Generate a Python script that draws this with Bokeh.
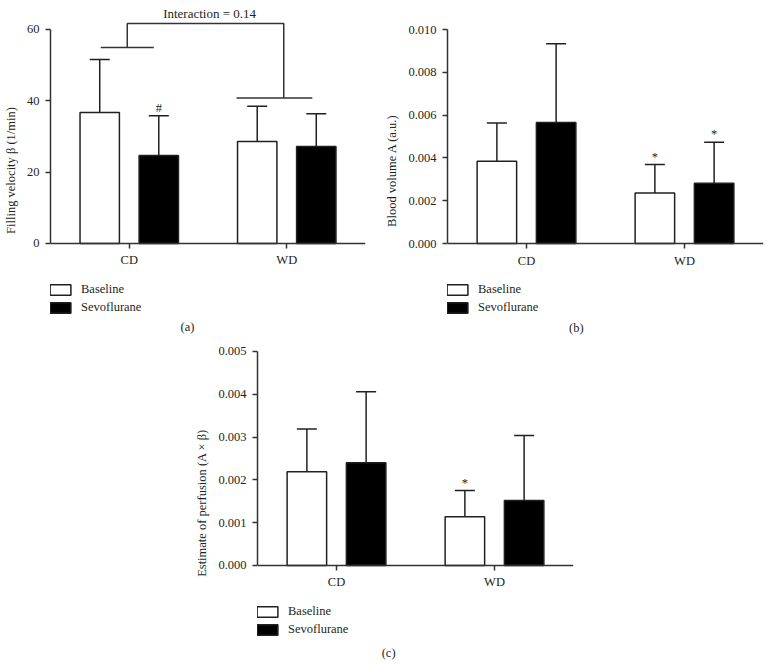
from bokeh.plotting import figure
from bokeh.models import (FactorRange, Range1d, FixedTicker, PrintfTickFormatter, Whisker,
                          TeeHead, ColumnDataSource, Legend, LegendItem, Label, Spacer)
from bokeh.transform import dodge
from bokeh.layouts import column, row
from bokeh.embed import file_html
from bokeh.resources import INLINE
from bokeh.core.properties import value

# ---------------- data ----------------
groups = ["CD", "WD"]
series = ["Baseline", "Sevoflurane"]

vel_base = [36.7, 28.6]
vel_base_sd = [14.9, 9.9]
vel_sevo = [24.7, 27.2]
vel_sevo_sd = [11.1, 9.2]
vel_marks_base = ["", ""]
vel_marks_sevo = ["#", ""]
vel_ticks = [0, 20, 40, 60]

vol_base = [0.00384, 0.00236]
vol_base_sd = [0.00179, 0.00133]
vol_sevo = [0.00566, 0.00281]
vol_sevo_sd = [0.00368, 0.00192]
vol_marks_base = ["", "*"]
vol_marks_sevo = ["", "*"]
vol_ticks = [0, 0.002, 0.004, 0.006, 0.008, 0.010]

perf_base = [0.00219, 0.00114]
perf_base_sd = [0.00100, 0.00061]
perf_sevo = [0.00240, 0.00152]
perf_sevo_sd = [0.00166, 0.00152]
perf_marks_base = ["", "*"]
perf_marks_sevo = ["", ""]
perf_ticks = [0, 0.001, 0.002, 0.003, 0.004, 0.005]

interaction_text = "Interaction = 0.14"
interaction_levels = [54.95, 40.8]   # group bracket levels (panel a)
interaction_top = 61.7

# ---------------- style ----------------
FONT = "Liberation Serif"
INK = "#231f20"
LINE = "#333333"
FS = "12.5px"
OFF = 0.1875
BW = 0.25


def make_panel(base, base_sd, sevo, sevo_sd, marks_b, marks_s, ticks, fmt, ylabel,
               width, height, borders, y_start, y_end, legend_y, panel_label, label_xy):
    left, right, top, bottom = borders
    p = figure(x_range=FactorRange(*groups, range_padding=0),
               y_range=Range1d(y_start, y_end),
               width=width, height=height, output_backend="svg",
               toolbar_location=None, tools="",
               min_border_left=left, min_border_right=right,
               min_border_top=top, min_border_bottom=bottom)
    p.outline_line_color = None
    p.xgrid.visible = False
    p.ygrid.visible = False
    p.background_fill_color = "white"
    p.border_fill_color = "white"

    src = ColumnDataSource(dict(
        x=groups, base=base, sevo=sevo,
        base_up=[m + s for m, s in zip(base, base_sd)],
        sevo_up=[m + s for m, s in zip(sevo, sevo_sd)],
        mb=marks_b, ms=marks_s))

    rb = p.vbar(x=dodge("x", -OFF, range=p.x_range), top="base", bottom=0, width=BW,
                source=src, fill_color="white", line_color=INK, line_width=1.5)
    rs = p.vbar(x=dodge("x", OFF, range=p.x_range), top="sevo", bottom=0, width=BW,
                source=src, fill_color="black", line_color=INK, line_width=1.5)

    for off, lo, up in [(-OFF, "base", "base_up"), (OFF, "sevo", "sevo_up")]:
        w = Whisker(base=dodge("x", off, range=p.x_range), lower=lo, upper=up, source=src,
                    dimension="height", lower_head=None,
                    upper_head=TeeHead(size=20, line_color=INK, line_width=1.5),
                    line_color=INK, line_width=1.5)
        p.add_layout(w)

    for off, up, mk in [(-OFF, "base_up", "mb"), (OFF, "sevo_up", "ms")]:
        p.text(x=dodge("x", off, range=p.x_range), y=up, text=mk, source=src,
               text_font=value(FONT), text_font_size=FS, text_color=INK,
               text_align="center", text_baseline="middle", y_offset=-8)

    ax = p.xaxis[0]
    ax.fixed_location = 0
    ax.axis_line_color = LINE
    ax.axis_line_width = 1.5
    ax.major_tick_line_color = LINE
    ax.major_tick_line_width = 1.5
    ax.major_tick_out = 5
    ax.major_tick_in = 0
    ax.minor_tick_line_color = None
    ax.major_label_text_font = FONT
    ax.major_label_text_font_size = FS
    ax.major_label_text_color = INK
    ax.major_label_standoff = 5

    ay = p.yaxis[0]
    ay.ticker = FixedTicker(ticks=ticks)
    if fmt:
        ay.formatter = PrintfTickFormatter(format=fmt)
    ay.bounds = (0, ticks[-1])
    ay.axis_line_color = LINE
    ay.axis_line_width = 1.5
    ay.major_tick_line_color = LINE
    ay.major_tick_line_width = 1.5
    ay.major_tick_out = 5
    ay.major_tick_in = 0
    ay.minor_tick_line_color = None
    ay.major_label_text_font = FONT
    ay.major_label_text_font_size = FS
    ay.major_label_text_color = INK
    ay.major_label_standoff = 6
    ay.axis_label = ylabel
    ay.axis_label_text_font = FONT
    ay.axis_label_text_font_size = FS
    ay.axis_label_text_font_style = "normal"
    ay.axis_label_text_color = INK
    ay.axis_label_standoff = 6

    legend = Legend(items=[LegendItem(label=series[0], renderers=[rb]),
                           LegendItem(label=series[1], renderers=[rs])],
                    location=(-3, legend_y), orientation="vertical",
                    padding=0, margin=0, spacing=3,
                    glyph_width=26, glyph_height=13, label_height=13,
                    label_standoff=8, border_line_color=None,
                    background_fill_alpha=0,
                    label_text_font=FONT, label_text_font_size=FS,
                    label_text_color=INK)
    p.add_layout(legend)

    p.add_layout(Label(x=label_xy[0], y=label_xy[1], text=panel_label,
                       text_font=FONT, text_font_size=FS, text_color=INK,
                       text_align="center", text_baseline="middle"))
    return p


pa = make_panel(vel_base, vel_base_sd, vel_sevo, vel_sevo_sd, vel_marks_base, vel_marks_sevo,
                vel_ticks, None, "Filling velocity β (1/min)",
                382, 340, (44, 17, 2, 2), -26.64, 67.57, 23, "(a)", (0.87, -23.5))

# interaction bracket (panel a)
pa.line(x=[0.319, 0.656], y=[interaction_levels[0]] * 2, line_color=LINE, line_width=1.5)
pa.line(x=[1.181, 1.6625], y=[interaction_levels[1]] * 2, line_color=LINE, line_width=1.5)
pa.line(x=[0.4875, 0.4875, 1.481, 1.481],
        y=[interaction_levels[0], interaction_top, interaction_top, interaction_levels[1]],
        line_color=LINE, line_width=1.5)
pa.add_layout(Label(x=1.01, y=64.6, text=interaction_text, text_font=FONT,
                    text_font_size="13px", text_color=INK, text_align="center",
                    text_baseline="middle"))

pb = make_panel(vol_base, vol_base_sd, vol_sevo, vol_sevo_sd, vol_marks_base, vol_marks_sevo,
                vol_ticks, "%.3f", "Blood volume A (a.u.)",
                386, 340, (61, 5, 2, 2), -0.004439, 0.011262, 23, "(b)", (0.815, -0.003925))

pc = make_panel(perf_base, perf_base_sd, perf_sevo, perf_sevo_sd, perf_marks_base,
                perf_marks_sevo, perf_ticks, "%.3f", "Estimate of perfusion (A × β)",
                400, 325, (60, 19, 2, 2), -0.002290, 0.005210, 26, "(c)", (0.83, -0.002033))

layout = column(row(pa, pb), row(Spacer(width=192, height=325), pc))

open("out.html", "w").write(file_html(layout, INLINE))
